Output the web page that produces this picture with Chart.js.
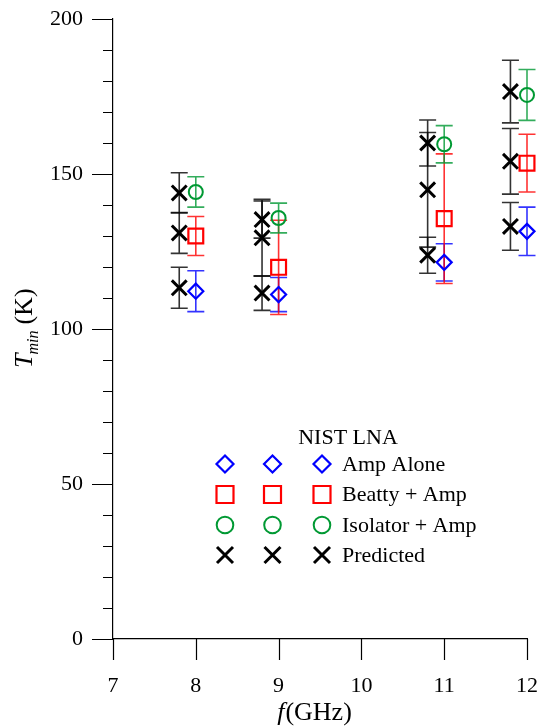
<!DOCTYPE html>
<html>
<head>
<meta charset="utf-8">
<script src="https://cdn.jsdelivr.net/npm/chart.js@4/dist/chart.umd.min.js"></script>
<style>
  html, body { margin: 0; padding: 0; background: #fff; }
  canvas { display: block; }
</style>
</head>
<body>
<canvas id="c" width="543" height="726"></canvas>
<script>
// Measured minimum noise temperature of the NIST LNA (K) vs frequency (GHz)
const frequencies = [8, 9, 11, 12];
const predictedFrequencies = [7.8, 8.8, 10.8, 11.8];

const ampAlone = [112.2, 111.1, 121.5, 131.5];
const ampAloneErr = [6.6, 5.5, 6.0, 7.8];
const beattyAmp = [130.0, 119.9, 135.6, 153.5];
const beattyAmpErr = [6.3, 15.2, 20.9, 9.3];
const isolatorAmp = [144.2, 135.8, 159.6, 175.5];
const isolatorAmpErr = [4.9, 4.8, 6.0, 8.2];

// Predicted values for each configuration
const predictedAmp = [113.3, 111.6, 123.8, 133.1];
const predictedAmpErr = [6.6, 5.6, 5.8, 7.7];
const predictedBeatty = [131.0, 129.4, 144.9, 154.1];
const predictedBeattyErr = [6.6, 12.4, 18.5, 10.6];
const predictedIsolator = [143.9, 135.3, 160.0, 176.6];
const predictedIsolatorErr = [6.5, 6.0, 7.4, 10.1];

const xTicks = [7, 8, 9, 10, 11, 12];
const yMajorTicks = [0, 50, 100, 150, 200];

const legendTitle = 'NIST LNA';
const legendLabels = ['Amp Alone', 'Beatty + Amp', 'Isolator + Amp', 'Predicted'];

const SERIF = '"Liberation Serif", "Times New Roman", serif';
const BLUE = '#0000ff', RED = '#ff0000', GREEN = '#009933', BLACK = '#000000';

function points(xs, ys) {
  return xs.map((x, i) => ({ x: x, y: ys[i] }));
}

function series(label, xs, ys, errs, style, color, radius, width) {
  return {
    label: label,
    data: points(xs, ys),
    errors: errs,
    clip: false,
    pointStyle: style,
    pointRadius: radius,
    pointHoverRadius: radius,
    pointBorderWidth: width,
    borderColor: color,
    pointBorderColor: color,
    backgroundColor: 'rgba(0,0,0,0)',
    pointBackgroundColor: 'rgba(0,0,0,0)',
    showLine: false
  };
}

// Vertical error bars with caps, drawn under the markers
const errorBars = {
  id: 'errorBars',
  beforeDatasetsDraw(chart) {
    const ctx = chart.ctx;
    const ys = chart.scales.y;
    const cap = 8.5;
    chart.data.datasets.forEach((ds, di) => {
      const meta = chart.getDatasetMeta(di);
      ctx.save();
      ctx.strokeStyle = ds.borderColor;
      ctx.globalAlpha = 0.8;
      ctx.lineWidth = 1.6;
      meta.data.forEach((el, i) => {
        const v = ds.data[i].y, e = ds.errors[i];
        const x = el.x;
        const top = ys.getPixelForValue(v + e);
        const bot = ys.getPixelForValue(v - e);
        ctx.beginPath();
        ctx.moveTo(x, top); ctx.lineTo(x, bot);
        ctx.moveTo(x - cap, top); ctx.lineTo(x + cap, top);
        ctx.moveTo(x - cap, bot); ctx.lineTo(x + cap, bot);
        ctx.stroke();
      });
      ctx.restore();
    });
  }
};

// Outward tick marks: long major and short minor ticks on y, major ticks on x
const tickMarks = {
  id: 'tickMarks',
  afterDraw(chart) {
    const ctx = chart.ctx;
    const xs = chart.scales.x, ys = chart.scales.y;
    const area = chart.chartArea;
    ctx.save();
    ctx.strokeStyle = '#000';
    ctx.lineWidth = 1.2;
    ctx.beginPath();
    for (let v = 0; v <= 200; v += 10) {
      const y = Math.round(ys.getPixelForValue(v)) + 0.5;
      const len = yMajorTicks.includes(v) ? 21 : 10;
      ctx.moveTo(area.left - len, y); ctx.lineTo(area.left, y);
    }
    xTicks.forEach(t => {
      const x = Math.round(xs.getPixelForValue(t)) + 0.5;
      ctx.moveTo(x, area.bottom); ctx.lineTo(x, area.bottom + 21);
    });
    ctx.stroke();
    ctx.restore();
  }
};

function drawMarker(ctx, style, x, y, r, color, width) {
  ctx.save();
  ctx.strokeStyle = color;
  ctx.lineWidth = width;
  ctx.beginPath();
  if (style === 'rectRot') {
    ctx.moveTo(x, y - r); ctx.lineTo(x + r, y); ctx.lineTo(x, y + r); ctx.lineTo(x - r, y); ctx.closePath();
  } else if (style === 'rect') {
    ctx.rect(x - r, y - r, 2 * r, 2 * r);
  } else if (style === 'circle') {
    ctx.arc(x, y, r, 0, Math.PI * 2);
  } else {
    ctx.moveTo(x - r, y - r); ctx.lineTo(x + r, y + r);
    ctx.moveTo(x + r, y - r); ctx.lineTo(x - r, y + r);
  }
  ctx.stroke();
  ctx.restore();
}

// Legend box with three marker samples per row, and the axis titles
const annotations = {
  id: 'annotations',
  afterDraw(chart) {
    const ctx = chart.ctx;
    ctx.save();
    ctx.fillStyle = '#000';
    ctx.font = '22px ' + SERIF;
    ctx.textAlign = 'center';
    ctx.textBaseline = 'middle';
    ctx.fillText(legendTitle, 348, 438);

    const rows = [
      { style: 'rectRot', color: BLUE, r: 8.5, w: 2.2 },
      { style: 'rect', color: RED, r: 8.5, w: 2.2 },
      { style: 'circle', color: GREEN, r: 8.3, w: 2.0 },
      { style: 'cross', color: BLACK, r: 8.0, w: 3.0 }
    ];
    const cols = [225, 272.5, 322];
    const rowY = [464, 494.5, 525, 555];
    rows.forEach((row, i) => {
      cols.forEach(cx => drawMarker(ctx, row.style, cx, rowY[i], row.r, row.color, row.w));
      ctx.textAlign = 'left';
      ctx.fillStyle = '#000';
      ctx.fillText(legendLabels[i], 342, rowY[i] + 1);
    });

    // x-axis title: f(GHz)
    ctx.textBaseline = 'alphabetic';
    ctx.textAlign = 'left';
    ctx.font = 'italic 26px ' + SERIF;
    const fW = ctx.measureText('f').width;
    ctx.font = '26px ' + SERIF;
    const restW = ctx.measureText('(GHz)').width;
    const x0 = 314 - (fW + restW) / 2;
    ctx.font = 'italic 26px ' + SERIF;
    ctx.fillText('f', x0, 720);
    ctx.font = '26px ' + SERIF;
    ctx.fillText('(GHz)', x0 + fW + 1, 720);

    // y-axis title: T_min (K), rotated
    ctx.translate(32, 368);
    ctx.rotate(-Math.PI / 2);
    ctx.font = 'italic 26px ' + SERIF;
    ctx.fillText('T', 0, 0);
    let px = ctx.measureText('T').width;
    ctx.font = 'italic 16px ' + SERIF;
    ctx.fillText('min', px - 1, 6);
    px += ctx.measureText('min').width + 5;
    ctx.font = '26px ' + SERIF;
    ctx.fillText('(K)', px, 0);
    ctx.restore();
  }
};

const datasets = [
  series('Predicted (Amp Alone)', predictedFrequencies, predictedAmp, predictedAmpErr, 'crossRot', BLACK, 10.5, 3),
  series('Predicted (Beatty + Amp)', predictedFrequencies, predictedBeatty, predictedBeattyErr, 'crossRot', BLACK, 10.5, 3),
  series('Predicted (Isolator + Amp)', predictedFrequencies, predictedIsolator, predictedIsolatorErr, 'crossRot', BLACK, 10.5, 3),
  series(legendLabels[0], frequencies, ampAlone, ampAloneErr, 'rectRot', BLUE, 7.5, 2.2),
  series(legendLabels[1], frequencies, beattyAmp, beattyAmpErr, 'rect', RED, 10.5, 2.2),
  series(legendLabels[2], frequencies, isolatorAmp, isolatorAmpErr, 'circle', GREEN, 7, 2.0)
];

// Fixed axis sizes; label overhang is covered by the layout padding
function fixScale(size, horizontal) {
  return function (s) {
    if (horizontal) s.height = size; else s.width = size;
    s.paddingTop = 0; s.paddingBottom = 0; s.paddingLeft = 0; s.paddingRight = 0;
  };
}

new Chart(document.getElementById('c'), {
  type: 'scatter',
  data: { datasets: datasets },
  options: {
    responsive: false,
    animation: false,
    devicePixelRatio: 1,
    layout: { padding: { top: 19, right: 16, left: 0, bottom: 0 } },
    plugins: {
      legend: { display: false },
      tooltip: { enabled: false },
      title: { display: false }
    },
    scales: {
      x: {
        type: 'linear',
        min: 7, max: 12,
        afterFit: fixScale(87, true),
        grid: { display: false, drawTicks: false },
        border: { display: true, color: '#000', width: 1.2 },
        afterBuildTicks(s) { s.ticks = xTicks.map(v => ({ value: v })); },
        ticks: {
          color: '#000',
          font: { family: SERIF, size: 22 },
          padding: 34,
          maxRotation: 0,
          callback: v => String(v)
        }
      },
      y: {
        type: 'linear',
        min: 0, max: 200,
        afterFit: fixScale(113, false),
        grid: { display: false, drawTicks: false },
        border: { display: true, color: '#000', width: 1.2 },
        afterBuildTicks(s) { s.ticks = yMajorTicks.map(v => ({ value: v })); },
        ticks: {
          color: '#000',
          font: { family: SERIF, size: 22 },
          padding: 30,
          callback: v => String(v)
        }
      }
    }
  },
  plugins: [errorBars, tickMarks, annotations]
});
</script>
</body>
</html>
